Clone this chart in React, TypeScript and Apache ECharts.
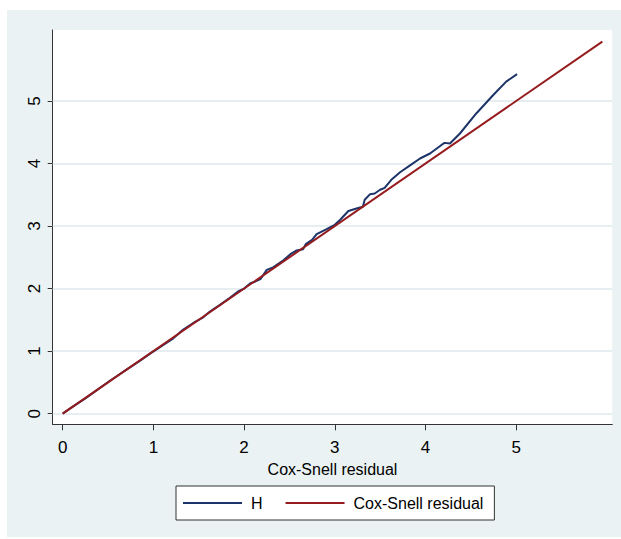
import React, { useEffect, useRef } from "react";
import * as echarts from "echarts";

// Nelson–Aalen cumulative hazard (H) against Cox-Snell residual
const hResidual = [0, 0.12, 0.25, 0.4, 0.55, 0.7, 0.85, 0.96, 1.11, 1.22, 1.33, 1.44, 1.55, 1.62, 1.73, 1.84, 1.94, 2.0, 2.07, 2.12, 2.18, 2.25, 2.32, 2.43, 2.52, 2.58, 2.65, 2.68, 2.75, 2.8, 2.91, 3.0, 3.06, 3.15, 3.24, 3.31, 3.33, 3.39, 3.44, 3.5, 3.55, 3.63, 3.72, 3.83, 3.94, 4.05, 4.18, 4.21, 4.27, 4.38, 4.56, 4.75, 4.89, 5.01];
const hValues = [0, 0.12, 0.245, 0.4, 0.555, 0.7, 0.845, 0.955, 1.098, 1.205, 1.345, 1.45, 1.54, 1.63, 1.735, 1.85, 1.96, 2.0, 2.085, 2.11, 2.15, 2.3, 2.34, 2.45, 2.56, 2.61, 2.63, 2.71, 2.78, 2.87, 2.95, 3.02, 3.1, 3.24, 3.28, 3.31, 3.42, 3.51, 3.52, 3.58, 3.61, 3.75, 3.86, 3.97, 4.08, 4.16, 4.3, 4.33, 4.32, 4.48, 4.8, 5.1, 5.31, 5.43];
// Reference line: Cox-Snell residual against itself
const refResidual = [0, 5.95];
const tickValues = [0, 1, 2, 3, 4, 5];
const seriesNames = ["H", "Cox-Snell residual"];
const xTitle = "Cox-Snell residual";

const FONT = "'Liberation Sans', Arial, sans-serif";

export default function App() {
  const ref = useRef<HTMLDivElement>(null);
  useEffect(() => {
    if (!ref.current) return;
    const chart = echarts.init(ref.current, undefined, { renderer: "svg" });
    const hData = hResidual.map((x, i) => [x, hValues[i]]);
    const refData = refResidual.map((x) => [x, x]);
    chart.setOption({
      animation: false,
      backgroundColor: "transparent",
      textStyle: { fontFamily: FONT },
      grid: {
        left: 52.7,
        top: 30,
        right: 8.7,
        bottom: 114.7,
        show: true,
        backgroundColor: "#ffffff",
        borderWidth: 0,
      },
      xAxis: {
        type: "value",
        min: -0.11,
        max: 6.06,
        name: xTitle,
        nameLocation: "middle",
        nameGap: 32,
        nameTextStyle: { fontSize: 16, color: "#000", fontFamily: FONT },
        axisLine: { show: true, onZero: false, lineStyle: { color: "#333", width: 1 } },
        axisTick: { show: true, length: 6, customValues: tickValues, lineStyle: { color: "#333" } },
        axisLabel: { customValues: tickValues, fontSize: 17, color: "#000", margin: 15, fontFamily: FONT },
        splitLine: { show: false },
      },
      yAxis: {
        type: "value",
        min: -0.17,
        max: 6.135,
        axisLine: { show: true, onZero: false, lineStyle: { color: "#333", width: 1 } },
        axisTick: { show: true, length: 5, customValues: tickValues, lineStyle: { color: "#333" } },
        axisLabel: { customValues: tickValues, fontSize: 17, color: "#000", margin: 10, rotate: 90, fontFamily: FONT },
        splitLine: { show: false },
      },
      legend: {
        left: 176,
        top: 486,
        orient: "horizontal",
        padding: [9, 11, 9, 7],
        itemGap: 23,
        itemWidth: 59,
        itemHeight: 2,
        icon: "rect",
        borderColor: "#333",
        borderWidth: 1,
        backgroundColor: "#ffffff",
        textStyle: { fontSize: 16, color: "#000", fontFamily: FONT, padding: [0, 0, 0, 4] },
        data: seriesNames,
      },
      series: [
        {
          name: "grid",
          type: "line",
          data: [],
          silent: true,
          z: 1,
          markLine: {
            silent: true,
            z: 1,
            symbol: "none",
            label: { show: false },
            emphasis: { disabled: true },
            lineStyle: { color: "#dfe9ec", width: 1.5, type: "solid" },
            data: tickValues.map((v) => ({ yAxis: v })),
          },
        },
        {
          name: seriesNames[0],
          type: "line",
          data: hData,
          symbol: "none",
          color: "#1c3468",
          lineStyle: { color: "#1c3468", width: 2 },
          z: 3,
        },
        {
          name: seriesNames[1],
          type: "line",
          data: refData,
          symbol: "none",
          color: "#951b1e",
          lineStyle: { color: "#951b1e", width: 2 },
          z: 4,
        },
      ],
    });
    return () => chart.dispose();
  }, []);
  return (
    <div style={{ position: "absolute", left: 0, top: 0, width: 621, height: 539, background: "#ffffff" }}>
      <div style={{ position: "absolute", left: 7, top: 10, width: 614, height: 527, background: "#eaf2f3" }} />
      <div ref={ref} style={{ position: "absolute", left: 0, top: 0, width: 621, height: 539 }} />
    </div>
  );
}
